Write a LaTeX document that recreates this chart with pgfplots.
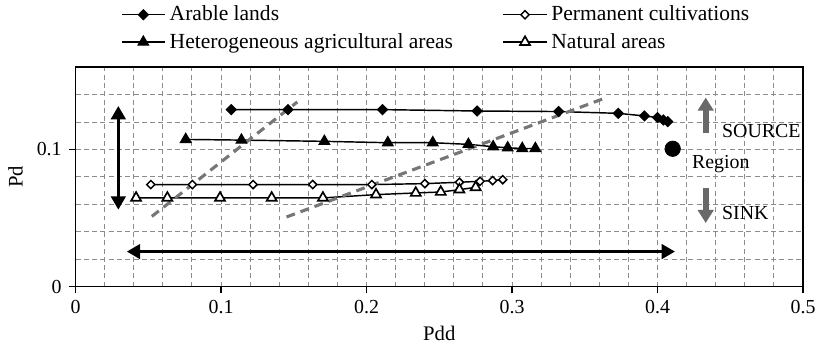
\documentclass[border=0pt]{standalone}
\usepackage{pgfplots}
\pgfplotsset{compat=1.18}
\usepackage{fontspec}
\setmainfont{Liberation Serif}
\usetikzlibrary{arrows.meta}
\definecolor{gridgray}{RGB}{140,140,140}
\definecolor{dashgray}{RGB}{118,118,118}
\definecolor{arrowgray}{RGB}{105,105,105}
\begin{document}
\begin{tikzpicture}
\begin{axis}[
  scale only axis, width=351.4pt, height=106.1pt,
  xmin=0, xmax=0.5, ymin=0, ymax=0.16,
  xtick={0,0.1,0.2,0.3,0.4,0.5}, ytick={0,0.1},
  minor xtick={0.02,0.04,0.06,0.08,0.12,0.14,0.16,0.18,0.22,0.24,0.26,0.28,0.32,0.34,0.36,0.38,0.42,0.44,0.46,0.48},
  minor ytick={0.02,0.04,0.06,0.08,0.12,0.14},
  grid=both,
  major grid style={gridgray, dash pattern=on 2.4pt off 1.6pt, line width=0.45pt},
  minor grid style={gridgray, dash pattern=on 2.4pt off 1.6pt, line width=0.45pt},
  minor tick length=0pt,
  tick align=outside, major tick length=3.2pt,
  tick style={black, line width=0.6pt},
  xtick pos=left, ytick pos=left,
  axis line style={line width=0.7pt},
  xlabel={Pdd}, ylabel={Pd},
  xlabel style={at={(axis description cs:0.5,-0.211)}, anchor=center},
  ylabel style={at={(axis description cs:-0.0825,0.5)}, anchor=center},
  ticklabel style={font=\fontsize{9.6}{11}\selectfont},
  /pgf/number format/assume math mode=true,
  legend columns=2,
  legend cell align=left,
  legend style={draw=none, fill=none, at={(axis description cs:0.062,1.30)}, anchor=north west,
    inner sep=0pt, row sep=0.5pt, font=\fontsize{10.4}{12.5}\selectfont,
    /tikz/every even column/.append style={column sep=22pt}},
  legend image code/.code={\draw[mark repeat=2,mark phase=2] plot coordinates {(0pt,0pt) (10.4pt,0pt) (20.8pt,0pt)};},
  clip=false,
]
% Arable lands
\addplot[black, line width=0.7pt, mark=square*, mark size=1.6pt, mark options={rotate=45, solid, fill=black}]
coordinates {(0.107,0.129) (0.146,0.129) (0.211,0.129) (0.276,0.128) (0.332,0.1276) (0.373,0.1263) (0.391,0.1244) (0.400,0.1232) (0.404,0.1215) (0.407,0.1203)};
\addlegendentry{Arable lands}
% Permanent cultivations
\addplot[black, line width=0.7pt, mark=square*, mark size=1.4pt, mark options={rotate=45, solid, fill=white, line width=0.7pt}]
coordinates {(0.0517,0.0744) (0.0803,0.0744) (0.122,0.0744) (0.163,0.0744) (0.2036,0.0744) (0.240,0.0751) (0.2638,0.0761) (0.278,0.0768) (0.2867,0.0773) (0.2936,0.078)};
\addlegendentry{Permanent cultivations}
% Heterogeneous agricultural areas
\addplot[black, line width=0.7pt, mark=triangle*, mark size=2.8pt, mark options={solid, fill=black}]
coordinates {(0.0757,0.1073) (0.114,0.1068) (0.171,0.1059) (0.2146,0.1049) (0.2455,0.1049) (0.270,0.1037) (0.287,0.102) (0.297,0.1012) (0.307,0.1007) (0.316,0.1007)};
\addlegendentry{Heterogeneous agricultural areas}
% Natural areas
\addplot[black, line width=0.7pt, mark=triangle*, mark size=2.8pt, mark options={solid, fill=white, line width=0.8pt}]
coordinates {(0.0416,0.0647) (0.0631,0.0647) (0.0993,0.0647) (0.1348,0.0647) (0.170,0.0647) (0.2065,0.0671) (0.2338,0.0683) (0.251,0.069) (0.2638,0.0707) (0.275,0.0724)};
\addlegendentry{Natural areas}
% gray dashed lines
\addplot[forget plot, dashgray, line width=1.5pt, dash pattern=on 4.3pt off 2.9pt] coordinates {(0.0524,0.0512) (0.1524,0.1346)};
\addplot[forget plot, dashgray, line width=1.5pt, dash pattern=on 4.3pt off 2.9pt] coordinates {(0.145,0.0508) (0.3628,0.137)};
% black double arrows
\addplot[forget plot, black, line width=1.6pt, {Triangle[length=6.5pt 0 0,width=7pt 0 0]}-{Triangle[length=6.5pt 0 0,width=7pt 0 0]}] coordinates {(0.0294,0.1317) (0.0294,0.0561)};
\addplot[forget plot, black, line width=1.6pt, {Triangle[length=6.5pt 0 0,width=7pt 0 0]}-{Triangle[length=6.5pt 0 0,width=7pt 0 0]}] coordinates {(0.0352,0.0256) (0.412,0.0256)};
% region dot
\addplot[forget plot, only marks, mark=*, mark size=3.7pt, black] coordinates {(0.4104,0.1005)};
% source / sink arrows
\addplot[forget plot, arrowgray, line width=2.9pt, -{Triangle[length=6.3pt 0 0,width=7.4pt 0 0]}] coordinates {(0.4331,0.1122) (0.4331,0.1378)};
\addplot[forget plot, arrowgray, line width=2.9pt, -{Triangle[length=6.3pt 0 0,width=7.4pt 0 0]}] coordinates {(0.4331,0.072) (0.4331,0.0464)};
\node[anchor=west, inner sep=0pt, font=\fontsize{9.6}{11}\selectfont] at (axis cs:0.4441,0.1134) {SOURCE};
\node[anchor=west, inner sep=0pt, font=\fontsize{9.6}{11}\selectfont] at (axis cs:0.4235,0.089) {Region};
\node[anchor=west, inner sep=0pt, font=\fontsize{9.6}{11}\selectfont] at (axis cs:0.4441,0.0537) {SINK};
\end{axis}
\pgfresetboundingbox
\path ([shift={(-36.5pt,-29.1pt)}]current axis.south west) rectangle ([shift={(7.7pt,32.4pt)}]current axis.north east);
\end{tikzpicture}
\end{document}
